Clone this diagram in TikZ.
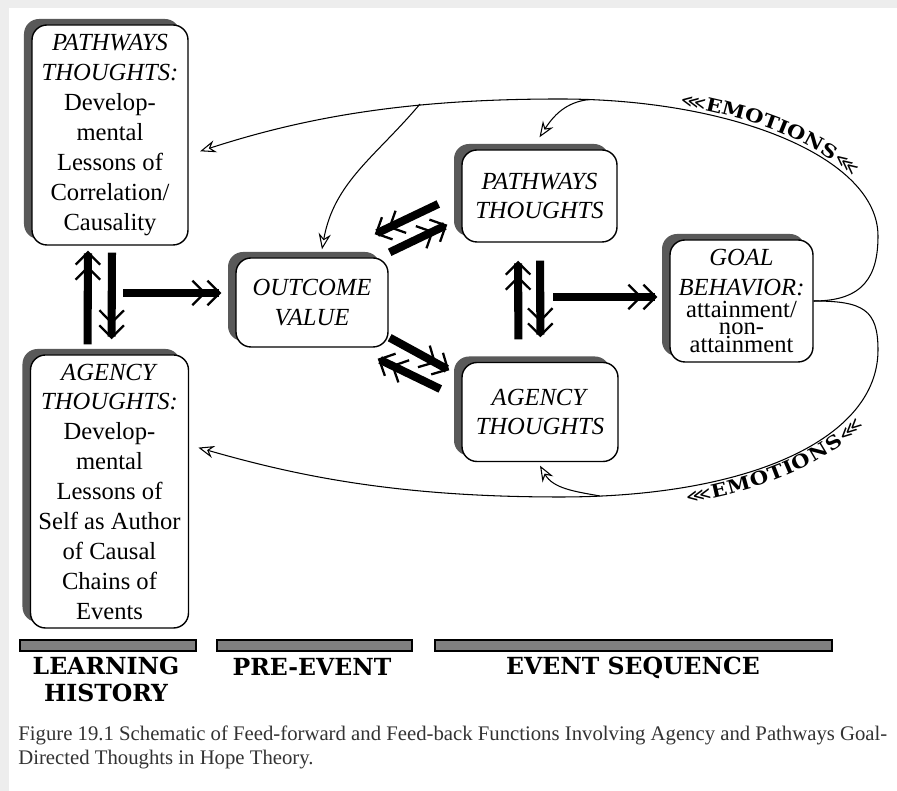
\documentclass[tikz,border=0pt]{standalone}
\usepackage{fontspec}
\setmainfont{Liberation Serif}
\newfontfamily\slabfont{DejaVu Serif}
\newfontfamily\stencilfont[FakeStretch=1.15]{DejaVu Serif}
\newfontfamily\symfont{DejaVu Sans}
\usetikzlibrary{arrows.meta,shadows,decorations.text}

\begin{document}
\begin{tikzpicture}[
        roundbox/.style={
            draw, line width=0.8pt, rounded corners=0.3cm, fill=white,
            align=center, inner sep=1pt,
            font=\fontsize{14}{17}\selectfont,
            drop shadow={shadow xshift=-0.16cm, shadow yshift=0.12cm, fill=black!65, opacity=1}
        },
        fatarrow/.style={
            line width=4.6pt,
            -{Straight Barb[length=7pt, width=14pt, line width'=1.3pt] Straight Barb[length=7pt, width=14pt, line width'=1.3pt] .}
        },
        thinarrow/.style={
            line width=0.6pt, -{Stealth[open, length=9pt, width=7pt, inset=3pt]}
        },
        bar/.style={draw, line width=1pt, fill=black!50},
        heading/.style={font=\slabfont\bfseries\fontsize{13.4}{15}\selectfont, align=center},
        emotions/.style={
            decorate, decoration={text along path, text align={left indent=#1},
            text={|\symfont|⋘|\stencilfont\bfseries\fontsize{10.5}{12}\selectfont|EMOTIONS|\symfont|⋘}}
        }
    ]
    \fill[black!7] (0,0) rectangle (17.94,15.82);
    \fill[white] (0.18,0) rectangle (17.94,15.66);
    \useasboundingbox (0,0) rectangle (17.94,15.82);

    % boxes
    \node[roundbox, minimum width=3.12cm, minimum height=4.4cm] (PL) at (2.2,13.12)
        {\textit{PATHWAYS}\\\textit{THOUGHTS:}\\Develop-\\mental\\Lessons of\\Correlation/\\Causality};
    \node[roundbox, minimum width=3.16cm, minimum height=5.46cm] (AL) at (2.19,5.99)
        {\textit{AGENCY}\\\textit{THOUGHTS:}\\Develop-\\mental\\Lessons of\\Self as Author\\of Causal\\Chains of\\Events};
    \node[roundbox, minimum width=3.04cm, minimum height=1.78cm] (OV) at (6.24,9.77) {\textit{OUTCOME}\\\textit{VALUE}};
    \node[roundbox, minimum width=3.1cm, minimum height=1.84cm] (PT) at (10.79,11.9) {\textit{PATHWAYS}\\\textit{THOUGHTS}};
    \node[roundbox, minimum width=3.12cm, minimum height=1.98cm] (AT) at (10.8,7.58) {\textit{AGENCY}\\\textit{THOUGHTS}};
    \node[roundbox, minimum width=2.86cm, minimum height=2.44cm] (GB) at (14.83,9.8)
        {\textit{GOAL}\\\textit{BEHAVIOR:}\\[-4.5pt]attainment/\\[-7pt]non-\\[-7pt]attainment};

    \coordinate (split) at (2.46,9.96);
    \coordinate (fork) at (11.06,9.88);
    \coordinate (R1) at (17.56,11.1);
    \coordinate (T) at (11.2,13.84);
    \coordinate (R2) at (17.56,8.82);
    \coordinate (B) at (11.2,5.88);
    \coordinate (br1) at (11.8,13.83);
    \coordinate (br2) at (8.4,13.74);
    \coordinate (br3) at (12,5.9);

    % thick arrows
    \draw[fatarrow, shorten <=0.2cm, shorten >=0.1cm] ([xshift=-0.44cm]AL.north) -- ([xshift=-0.44cm]PL.south);
    \draw[fatarrow, shorten <=0.14cm, shorten >=0.3cm] ([xshift=0.04cm]PL.south) -- ([xshift=0.04cm]AL.north);
    \draw[fatarrow, shorten >=0.28cm] (split) -- (split -| OV.west);
    \draw[fatarrow] ([shift={(-0.46,-0.16)}]PT.west) -- ([shift={(-0.28,0.46)}]OV.north east);
    \draw[fatarrow] ([shift={(0.02,0.1)}]OV.north east) -- ([shift={(-0.28,0.36)}]PT.south west);
    \draw[fatarrow] ([shift={(0.02,0.2)}]OV.south east) -- ([shift={(-0.24,-0.17)}]AT.north west);
    \draw[fatarrow] ([shift={(-0.42,0.46)}]AT.west) -- ([shift={(-0.22,-0.22)}]OV.south east);
    \draw[fatarrow, shorten <=0.45cm, shorten >=0.36cm] ([xshift=-0.43cm]AT.north) -- ([xshift=-0.43cm]PT.south);
    \draw[fatarrow, shorten <=0.36cm, shorten >=0.49cm] ([xshift=0.01cm]PT.south) -- ([xshift=0.01cm]AT.north);
    \draw[fatarrow, shorten >=0.24cm] (fork) -- (fork -| GB.west);

    % feedback loops
    \draw[thinarrow, shorten >=0.24cm] (GB.east) .. controls +(0:1) and +(-90:0.8) .. (R1)
        .. controls +(90:1.55) and +(0:3.5) .. (T)
        .. controls +(180:3) and +(18:2.5) .. ([yshift=-0.4cm]PL.east);
    \draw[thinarrow] (br1) to[out=185, in=57] ([yshift=0.24cm]PT.north);
    \draw[thinarrow] (br2) to[out=230, in=80] ([shift={(0.2,0.16)}]OV.north);
    \draw[thinarrow, shorten >=0.19cm] (GB.east) .. controls +(0:1) and +(90:0.8) .. (R2)
        .. controls +(-90:1.76) and +(0:3.82) .. (B)
        .. controls +(180:3.3) and +(-16:2.2) .. ([yshift=0.93cm]AL.east);
    \draw[thinarrow] (br3) to[out=170, in=-60] ([yshift=-0.07cm]AT.south);

    % emotions labels
    \path[emotions=2.4cm, decoration={raise=2pt}] (T) .. controls +(0:3.5) and +(90:1.55) .. (R1);
    \path[emotions=2.5cm, decoration={raise=-9pt}] (B) .. controls +(0:3.82) and +(-90:1.76) .. (R2);

    % time line
    \draw[bar] (0.4,2.8) rectangle (3.92,3.02);
    \draw[bar] (4.34,2.8) rectangle (8.24,3.02);
    \draw[bar] (8.7,2.8) rectangle (16.64,3.02);
    \node[heading] (LH) at (2.12,2.23) {LEARNING\\HISTORY};
    \node[heading] (PE) at (6.24,2.48) {PRE-EVENT};
    \node[heading] (ES) at (12.66,2.46) {EVENT SEQUENCE};

    \node[anchor=north west, align=left, inner sep=0pt, text=black!80,
        font=\fontsize{11.8}{13.2}\selectfont] (cap) at (0.36,1.3)
        {Figure 19.1 Schematic of Feed-forward and Feed-back Functions Involving Agency and Pathways Goal-\\Directed Thoughts in Hope Theory.};
\end{tikzpicture}
\end{document}
